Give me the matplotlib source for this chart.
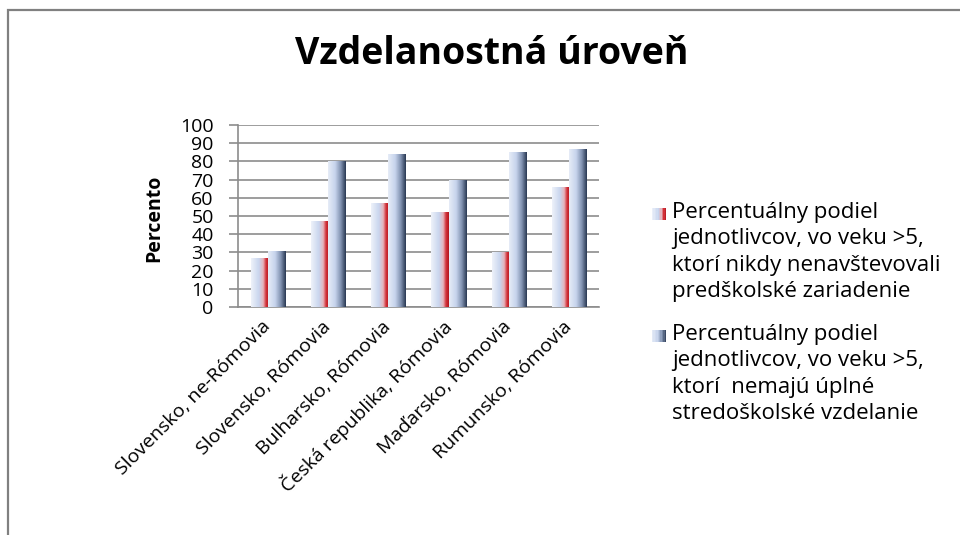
import numpy as np
import matplotlib
matplotlib.use('Agg')
import matplotlib.pyplot as plt
from matplotlib.colors import LinearSegmentedColormap
from matplotlib.patches import Rectangle

plt.rcParams['font.family'] = ['Open Sans', 'DejaVu Sans']

# Údaje
kategorie = ['Slovensko, ne-Rómovia', 'Slovensko, Rómovia', 'Bulharsko, Rómovia',
             'Česká republika, Rómovia', 'Maďarsko, Rómovia', 'Rumunsko, Rómovia']
predskolske = [27, 47, 57, 52, 30, 66]
stredoskolske = [31, 80, 84, 70, 85, 87]
legenda = ['Percentuálny podiel\njednotlivcov, vo veku >5,\nktorí nikdy nenavštevovali\npredškolské zariadenie',
           'Percentuálny podiel\njednotlivcov, vo veku >5,\nktorí  nemajú úplné\nstredoškolské vzdelanie']
y_ticks = list(range(0, 101, 10))

cmap_red = LinearSegmentedColormap.from_list('r', [(0, '#eef2fa'), (0.45, '#c8d5ee'),
                                                   (0.68, '#e6b4bc'), (0.85, '#d23038'), (1, '#b3161e')])
cmap_blue = LinearSegmentedColormap.from_list('b', [(0, '#e6ecf7'), (0.4, '#c6d3ec'),
                                                    (0.72, '#8192b0'), (1, '#2a3953')])
grad = np.linspace(0, 1, 64).reshape(1, -1)

W, H = 960, 535
fig = plt.figure(figsize=(9.6, 5.35), dpi=100)
ax = fig.add_axes([238 / W, 1 - 307 / H, 361 / W, 182 / H])

x = np.arange(len(kategorie))
w = 0.285
b1 = ax.bar(x - w / 2, predskolske, w, facecolor='none', edgecolor='none', zorder=3)
b2 = ax.bar(x + w / 2, stredoskolske, w, facecolor='none', edgecolor='none', zorder=3)
for bars, cm in [(b1, cmap_red), (b2, cmap_blue)]:
    for p in bars:
        x0, y0 = p.get_x(), p.get_y()
        im = ax.imshow(grad, cmap=cm, aspect='auto', zorder=3,
                       extent=[x0, x0 + p.get_width(), y0, y0 + p.get_height()])
        im.set_clip_path(p)

ax.set_xlim(-0.5, len(kategorie) - 0.5)
ax.set_ylim(0, 100)
ax.set_yticks(y_ticks)
ax.tick_params(axis='y', length=6.5, width=1.2, color='#8c8c8c', labelsize=14, pad=11)
ax.tick_params(axis='x', length=0, labelsize=14, pad=12)
ax.set_xticks(x)
ax.set_xticklabels(kategorie, rotation=45, ha='right', va='center', rotation_mode='anchor')
ax.grid(axis='y', color='#8c8c8c', linewidth=1.2, zorder=0)
ax.set_axisbelow(True)
for s in ['top', 'right']:
    ax.spines[s].set_visible(False)
for s in ['left', 'bottom']:
    ax.spines[s].set_color('#8c8c8c')
    ax.spines[s].set_linewidth(1.2)
ax.set_ylabel('Percento', fontsize=14, fontweight='bold')
ax.yaxis.set_label_coords((164 - 238) / 361, (307 - 218) / 182)

# legenda (ručne)
for (y_top, cm, txt) in [(208, cmap_red, legenda[0]), (330, cmap_blue, legenda[1])]:
    n = 10
    for i in range(n):
        fig.add_artist(Rectangle(((652 + i * 14 / n) / W, 1 - (y_top + 12) / H), (14 / n + 0.4) / W, 12 / H,
                                 transform=fig.transFigure, facecolor=cm((i + 0.5) / n), edgecolor='none'))
    fig.text(672 / W, 1 - (y_top - 6) / H, txt, ha='left', va='top', fontsize=16, linespacing=1.34)

fig.text(492 / W, 1 - 54 / H, 'Vzdelanostná úroveň', ha='center', va='center',
         fontsize=27, fontweight='bold')

fig.add_artist(Rectangle((8 / W, -0.05), 1.1, 1 - 10 / H + 0.05, transform=fig.transFigure,
                         facecolor='none', edgecolor='#808080', linewidth=1.6))

fig.savefig('out.png', dpi=100)
